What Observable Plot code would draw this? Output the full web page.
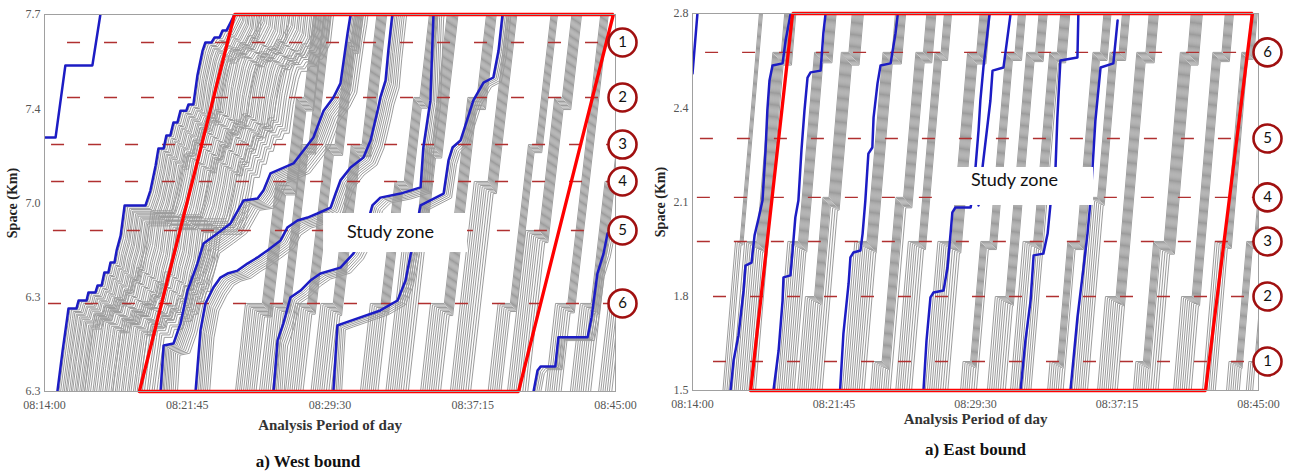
<!DOCTYPE html>
<html><head><meta charset="utf-8">
<script src="https://cdn.jsdelivr.net/npm/d3@7"></script>
<script src="https://cdn.jsdelivr.net/npm/@observablehq/plot@0.6"></script>
<style>
html,body{margin:0;padding:0;background:#fff;}
body{width:1295px;height:473px;overflow:hidden;position:relative;}
#west{position:absolute;left:0;top:0;}
#east{position:absolute;left:648px;top:0;}
</style></head><body>
<div id="west"></div><div id="east"></div>
<script>
// ---------- axes ----------
const TIME_TICKS = [0, 465, 930, 1395, 1860];              // seconds after 08:14:00
const TIME_LABELS = ["08:14:00","08:21:45","08:29:30","08:37:15","08:45:00"];
const westYTicks = [7.7, 7.35, 7.0, 6.65, 6.3];
const westYLabels = ["7.7","7.4","7.0","6.3","6.3"];
const eastYTicks = [2.8, 2.475, 2.15, 1.825, 1.5];
const eastYLabels = ["2.8","2.4","2.1","1.8","1.5"];

// ---------- detectors (1..6) ----------
const detectorNames = ["1","2","3","4","5","6"];
const westDetectors = [7.596, 7.392, 7.217, 7.080, 6.898, 6.627];
const westDashStart = [75, 75, 23, 23, 29, 13];
const eastDetectors = [1.600, 1.824, 2.014, 2.166, 2.369, 2.666];
const eastDashStart = [69, 69, 16, 16, 26, 43];

// ---------- study zones ----------
const westZone = [[309,6.3],[619,7.7],[1853,7.7],[1544,6.3],[309,6.3]];
const eastZone = [[191,1.5],[329,2.8],[1840,2.8],[1686,1.5],[191,1.5]];
const westBox = [909, 1378, 6.816, 6.961];
const westBoxLabel = [1127, 6.890];
const eastBox = [799, 1318, 2.138, 2.269];
const eastBoxLabel = [1058, 2.224];

// ---------- highlighted (blue) vehicles: [time s, space km] ----------
const westA = [[0,7.243],[36,7.243],[68,7.511],[156,7.511],[182,7.700]];
const westB = [[42,6.300],[59,6.452],[75,6.582],[78,6.608],[104,6.608],[111,6.638],[137,6.638],[143,6.668],[166,6.668],[173,6.694],[186,6.694],[195,6.742],[208,6.742],[215,6.779],[228,6.779],[235,6.824],[248,6.879],[261,6.991],[329,6.991],[345,7.046],[362,7.139],[371,7.202],[388,7.202],[397,7.251],[410,7.251],[420,7.299],[433,7.299],[443,7.343],[462,7.343],[469,7.366],[485,7.366],[498,7.473],[515,7.566],[524,7.596],[544,7.596],[554,7.615],[570,7.615],[580,7.641],[593,7.641],[606,7.670],[619,7.700]];
const westC = [[378,6.300],[388,6.471],[420,6.478],[443,6.553],[466,6.675],[498,6.775],[518,6.850],[563,6.887],[606,6.924],[648,7.009],[694,7.017],[713,7.046],[736,7.110],[811,7.147],[876,7.243],[909,7.343],[941,7.392],[964,7.444],[987,7.629],[997,7.700]];
const westD = [[492,6.300],[508,6.527],[524,6.627],[550,6.686],[573,6.723],[596,6.738],[629,6.749],[661,6.775],[694,6.798],[726,6.824],[769,6.861],[791,6.909],[824,6.935],[857,6.946],[889,6.961],[932,6.983],[948,7.035],[964,7.084],[997,7.132],[1039,7.169],[1062,7.232],[1085,7.343],[1094,7.392],[1111,7.455],[1120,7.566],[1133,7.700]];
const westE = [[746,6.300],[759,6.489],[778,6.553],[801,6.649],[834,6.675],[866,6.712],[899,6.738],[964,6.760],[1006,6.812],[1045,6.898],[1068,6.991],[1094,7.020],[1160,7.035],[1225,7.058],[1234,7.206],[1257,7.381],[1267,7.700]];
const westF = [[941,6.300],[954,6.545],[980,6.556],[1094,6.601],[1150,6.638],[1176,6.712],[1192,6.805],[1212,6.916],[1225,6.991],[1300,7.035],[1316,7.158],[1329,7.206],[1355,7.232],[1371,7.288],[1397,7.381],[1430,7.447],[1462,7.466],[1479,7.566],[1492,7.700]];
const westG = [[1593,6.300],[1606,6.378],[1616,6.393],[1664,6.393],[1674,6.501],[1769,6.501],[1782,6.575],[1801,6.738],[1821,6.812],[1834,6.887],[1860,6.898]];

const eastR1 = [[0,2.593],[16,2.797]];
const eastR2 = [[125,1.500],[135,1.604],[151,1.690],[168,1.845],[174,1.931],[194,1.941],[204,2.035],[217,2.093],[230,2.155],[240,2.328],[246,2.466],[253,2.569],[263,2.621],[296,2.628],[306,2.707],[322,2.797]];
const eastR3 = [[266,1.500],[283,1.638],[296,1.810],[299,1.890],[322,1.897],[329,1.983],[338,2.097],[348,2.155],[358,2.328],[368,2.466],[378,2.579],[388,2.597],[421,2.603],[430,2.731],[437,2.797]];
const eastR4 = [[485,1.500],[496,1.697],[513,1.869],[519,1.959],[529,1.976],[552,1.983],[559,2.041],[568,2.155],[575,2.269],[578,2.317],[591,2.338],[595,2.441],[608,2.559],[618,2.621],[651,2.628],[667,2.731],[674,2.793]];
const eastR5 = [[759,1.500],[769,1.672],[782,1.821],[792,1.838],[825,1.845],[838,1.924],[848,2.041],[854,2.114],[864,2.131],[914,2.131],[923,2.190],[930,2.269],[940,2.397],[946,2.500],[956,2.614],[969,2.731],[976,2.797]];
const eastR6 = [[1078,1.500],[1094,1.672],[1111,1.810],[1121,1.966],[1153,1.972],[1167,2.041],[1176,2.138],[1193,2.269],[1199,2.441],[1209,2.638],[1265,2.648],[1268,2.797]];
const eastR7 = [[1242,1.500],[1265,1.752],[1285,1.924],[1298,2.041],[1308,2.155],[1324,2.431],[1341,2.614],[1383,2.628],[1397,2.776]];
const eastR8 = [[940,2.138],[953,2.269],[979,2.500],[986,2.603],[1022,2.614],[1045,2.797]];

// ---------- other (grey) vehicles ----------
// platoons: [entry times at the lower edge], [[detector, wait of the first vehicle, s], ...]
const westPlatoons = [
  [[622,628,635,641,648,655,661,668,675,682,689], [[6,55],[4,35],[2,25]]],
  [[700,707,714,721,728,735,742,749], [[6,45],[3,25]]],
  [[785,792,799,806,813,820,827,834,842], [[6,40],[3,30],[1,15]]],
  [[868,875,882,889,896,903,910,918,926,934], [[6,40],[3,35]]],
  [[1029,1036,1043,1050,1057,1064,1071,1078,1086], [[6,35],[4,30],[2,20]]],
  [[1112,1119,1126,1133,1140,1147,1154,1161,1169,1177,1185], [[5,40],[3,20]]],
  [[1225,1232,1239,1246,1253,1260,1267,1274,1282,1290], [[6,45],[2,30]]],
  [[1322,1329,1336,1343,1350,1357,1364,1372,1380,1388], [[4,45]]],
  [[1445,1452,1459,1466,1473,1480,1487], [[6,40],[3,25]]],
  [[1508,1515,1522,1529,1536,1543,1550,1558,1566,1574], [[5,45],[2,25]]],
  [[1632,1639,1646,1653,1660,1667,1675,1683], [[6,40]]],
  [[1713,1720,1727,1734,1741,1748,1755,1763,1771,1779], [[6,35],[4,25]]],
  [[1805,1812,1819,1826,1833,1840,1848], [[6,30]]]
];
const eastPlatoons = [
  [[100,106,113,119], [[3,15]]],
  [[130,137,143,150,157,164,171,178,185,192,200,207], [[3,40],[6,28]]],
  [[272,279,285,292,299,306,313,320,327,334], [[3,35],[6,30]]],
  [[345,352,359,366,373,380,388,395,402,410,418,426], [[2,30],[4,20],[6,25]]],
  [[492,499,506,513,520,527,534,541,548,556,564], [[3,40],[6,30]]],
  [[585,592,599,606,613,620,628,635,642,650], [[1,30],[4,25],[6,25]]],
  [[668,675,682,689,696,704,712,720], [[3,35],[6,20]]],
  [[765,772,779,786,793,800,807,815,823,831,839], [[3,45],[6,30]]],
  [[881,888,895,902,909,917,925,933], [[1,25],[3,30],[6,30]]],
  [[969,976,983,990,997,1004,1012,1020,1028], [[2,35],[6,30]]],
  [[1045,1052,1059,1066,1073,1084,1091,1098,1105,1112], [[3,35],[6,25]]],
  [[1167,1174,1181,1188,1195,1202,1210,1218], [[1,25],[3,30],[6,25]]],
  [[1248,1255,1262,1269,1276,1283,1290,1298], [[4,30],[6,30]]],
  [[1331,1338,1345,1352,1359,1366,1373,1380,1388,1396], [[2,35],[6,30]]],
  [[1449,1456,1463,1470,1477,1484,1491,1498,1506,1514,1522,1530], [[1,25],[3,35],[6,25]]],
  [[1581,1588,1595,1602,1609,1616,1623,1631,1639], [[2,35],[6,30]]],
  [[1676,1683,1690,1697,1704,1711,1718], [[3,35],[6,20]]],
  [[1755,1762,1769,1776,1783,1790,1797], [[1,25],[3,25]]],
  [[1820,1827,1834,1841], [[1,20]]]
];
// vehicles queued behind a highlighted one: [time lag s, space lag km]
const westFollowB = [[5,0],[10,-0.005],[16,-0.011],[21,-0.015],[26,-0.021],[30,-0.025],[36,-0.031],[41,-0.035],[45,-0.040],[51,-0.046],[56,-0.050],[60,-0.054],[66,-0.061],[71,-0.065],[75,-0.069],[81,-0.076],
  [86,-0.020],[93,-0.026],[98,-0.030],[104,-0.036],[111,-0.041],[116,-0.045],[122,-0.051],[129,-0.056],[134,-0.060],[140,-0.066],[147,-0.071],[152,-0.075],[158,-0.081],[165,-0.086],[170,-0.090],
  [177,-0.035],[184,-0.041],[189,-0.045],[195,-0.050],[202,-0.056],[207,-0.060],[213,-0.066],[220,-0.071],[225,-0.075],[231,-0.080],[238,-0.086],[243,-0.090],[249,-0.096],[256,-0.101],
  [262,-0.050],[270,-0.059],[276,-0.066],[284,-0.075],[290,-0.082],[298,-0.091],[304,-0.098],[312,-0.107]];
const westFollowC = [[4,0],[8,-0.004],[12,-0.008],[17,-0.012],[22,-0.016],[27,-0.020],[33,-0.024],[39,-0.028],[46,-0.032],[53,-0.036]];
const westFollowD = [[4,0],[9,-0.004],[14,-0.008],[19,-0.012],[25,-0.016],[31,-0.020],[37,-0.024],[44,-0.028]];
const westFollowE = [[4,0],[9,-0.004],[14,-0.008],[20,-0.012],[26,-0.016],[33,-0.020]];
const westFollowF = [[4,0],[9,-0.004],[14,-0.008],[20,-0.012],[26,-0.016]];
const westFollowG = [[5,0],[10,-0.004],[16,-0.008],[22,-0.012]];

// ---------- build ----------
function buildPanel(cfg) {
  const v = (cfg.s1 - cfg.s0) / cfg.T;
  const gray = [];
  let id = 0;
  const push = pts => { const k = id++; pts.forEach(([t, s]) => gray.push({id: k, t, s})); };
  for (const [t0s, stops] of cfg.platoons) {
    const st = stops.map(([d, w]) => ({s: cfg.det[d - 1], w, rel: null, q: 0})).sort((a, b) => a.s - b.s);
    for (const t0 of t0s) {
      let t = t0, s = cfg.s0;
      const pts = [[t, s]];
      for (const p of st) {
        const sq = p.s - p.q * cfg.gap;
        const ta = t + (sq - s) / v;
        if (p.rel === null) {
          p.rel = ta + p.w; pts.push([ta, sq], [p.rel, sq]); t = p.rel; s = sq; p.q = 1;
        } else {
          const r = p.rel + p.q * cfg.h;
          if (ta < r) { pts.push([ta, sq], [r, sq]); t = r; s = sq; p.q++; }
        }
      }
      const sEnd = cfg.s1 + 0.05;
      pts.push([t + (sEnd - s) / v, sEnd]);
      push(pts);
    }
  }
  for (const [tpl, offs] of cfg.followers) {
    const a = tpl[0], b = tpl[tpl.length - 1];
    const ext = [[a[0] - 0.3 / v, a[1] - 0.3], ...tpl, [b[0] + 0.3 / v, b[1] + 0.3]];
    offs.forEach(([dt, ds]) => push(ext.map(([t, s]) => [t + dt, s + ds])));
  }
  const blue = [];
  cfg.blue.forEach((tr, k) => tr.forEach(([t, s]) => blue.push({id: k, t, s})));
  const dets = cfg.det.map((s, i) => ({s, name: detectorNames[i], x1: cfg.dashStart[i]}));
  const tickMapX = new Map(TIME_TICKS.map((d, i) => [d, TIME_LABELS[i]]));
  const tickMapY = new Map(cfg.yTicks.map((d, i) => [d, cfg.yLabels[i]]));
  return Plot.plot({
    width: cfg.width, height: 473,
    marginLeft: 44, marginRight: cfg.marginRight, marginTop: cfg.marginTop, marginBottom: cfg.marginBottom,
    x: {domain: [0, 1860], label: null},
    y: {domain: [cfg.s0, cfg.s1], label: null},
    style: {fontFamily: "'Liberation Serif', serif", fontSize: "12px", background: "transparent", overflow: "visible"},
    marks: [
      Plot.line(gray, {x: "t", y: "s", z: "id", stroke: "#9c9c9c", strokeWidth: 1, clip: true}),
      Plot.ruleY(dets, {y: "s", x1: "x1", x2: 1860, stroke: "#b03030", strokeWidth: 1.4, strokeDasharray: "13,24", clip: true}),
      Plot.line(blue, {x: "t", y: "s", z: "id", stroke: "#1c1cc4", strokeWidth: 2.5, clip: true}),
      Plot.rect([cfg.box], {x1: d => d[0], x2: d => d[1], y1: d => d[2], y2: d => d[3], fill: "white"}),
      Plot.text(["Study zone"], {x: () => cfg.boxLabel[0], y: () => cfg.boxLabel[1], fontFamily: "Lato, 'Open Sans', sans-serif", fontSize: 18, fill: "#111"}),
      Plot.line(cfg.zone, {x: d => d[0], y: d => d[1], stroke: "#ff0000", strokeWidth: 3.3, strokeLinejoin: "miter"}),
      Plot.frame({stroke: "#a0a0a0"}),
      Plot.axisX({ticks: TIME_TICKS, tickFormat: d => tickMapX.get(d), tickSize: 0, tickPadding: cfg.xPad, fill: "#555", label: null}),
      Plot.axisY({ticks: cfg.yTicks, tickFormat: d => tickMapY.get(d), tickSize: 0, tickPadding: 4, fill: "#555", label: null}),
      Plot.dot(dets, {y: "s", frameAnchor: "right", dx: cfg.cdx, r: 14, stroke: "#a01010", strokeWidth: 2.6, fill: "white"}),
      Plot.text(dets, {y: "s", frameAnchor: "right", dx: cfg.cdx, text: "name", textAnchor: "middle", lineAnchor: "middle", fontFamily: "Lato, 'Open Sans', sans-serif", fontSize: 15, fill: "#111"}),
      Plot.text(["Analysis Period of day"], {frameAnchor: "bottom", dy: cfg.titleDy, textAnchor: "middle", lineAnchor: "middle", fontWeight: "bold", fontSize: 15, fill: "#333"}),
      Plot.text(["Space (Km)"], {frameAnchor: "left", dx: cfg.spaceDx, rotate: -90, textAnchor: "middle", lineAnchor: "middle", fontWeight: "bold", fontSize: 14, fill: "#222"}),
      Plot.text([cfg.caption], {frameAnchor: "bottom", dx: cfg.capDx, dy: cfg.capDy, textAnchor: "middle", lineAnchor: "middle", fontWeight: "bold", fontSize: 17, fill: "#111"})
    ]
  });
}

const west = buildPanel({
  width: 640, marginRight: 25, marginTop: 14, marginBottom: 82,
  s0: 6.3, s1: 7.7, T: 140, gap: 0.005, h: 3.0,
  det: westDetectors, dashStart: westDashStart,
  yTicks: westYTicks, yLabels: westYLabels,
  platoons: westPlatoons,
  followers: [[westB, westFollowB], [westC, westFollowC], [westD, westFollowD], [westE, westFollowE], [westF, westFollowF], [westG, westFollowG]],
  blue: [westA, westB, westC, westD, westE, westF, westG],
  zone: westZone, box: westBox, boxLabel: westBoxLabel,
  xPad: 9, cdx: 7, titleDy: 34, spaceDx: -32, capDx: -22, capDy: 70, caption: "a) West bound"
});
const east = buildPanel({
  width: 636, marginRight: 26, marginTop: 13, marginBottom: 83,
  s0: 1.5, s1: 2.8, T: 105, gap: 0.004, h: 3.0,
  det: eastDetectors, dashStart: eastDashStart,
  yTicks: eastYTicks, yLabels: eastYLabels,
  platoons: eastPlatoons,
  followers: [],
  blue: [eastR1, eastR2, eastR3, eastR4, eastR5, eastR6, eastR7, eastR8],
  zone: eastZone, box: eastBox, boxLabel: eastBoxLabel,
  xPad: 9, cdx: 9, titleDy: 29, spaceDx: -32, capDx: 0, capDy: 59, caption: "a) East bound"
});
document.getElementById("west").appendChild(west);
document.getElementById("east").appendChild(east);
</script>
</body></html>
